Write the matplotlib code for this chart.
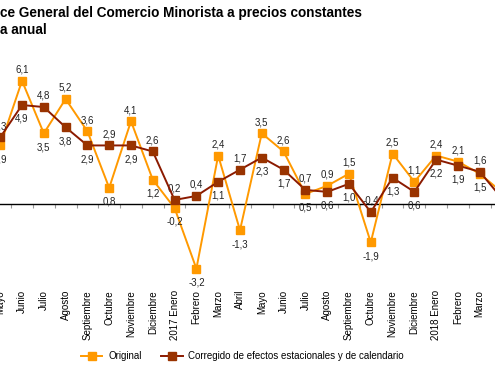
import matplotlib
matplotlib.use('Agg')
import matplotlib.pyplot as plt

plt.rcParams['font.family'] = ['Liberation Sans', 'DejaVu Sans']

months = ["Mayo", "Junio", "Julio", "Agosto", "Septiembre", "Octubre", "Noviembre", "Diciembre",
          "2017 Enero", "Febrero", "Marzo", "Abril", "Mayo", "Junio", "Julio", "Agosto",
          "Septiembre", "Octubre", "Noviembre", "Diciembre", "2018 Enero", "Febrero", "Marzo", "Abril"]
original = [2.9, 6.1, 3.5, 5.2, 3.6, 0.8, 4.1, 1.2, -0.2, -3.2, 2.4, -1.3, 3.5, 2.6, 0.5, 0.9,
            1.5, -1.9, 2.5, 1.1, 2.4, 2.1, 1.5, 0.6]
corregido = [3.3, 4.9, 4.8, 3.8, 2.9, 2.9, 2.9, 2.6, 0.2, 0.4, 1.1, 1.7, 2.3, 1.7, 0.7, 0.6,
             1.0, -0.4, 1.3, 0.6, 2.2, 1.9, 1.6, 0.3]
title_lines = ["ce General del Comercio Minorista a precios constantes", "a anual"]
legend_labels = ["Original", "Corregido de efectos estacionales y de calendario"]

c_orig = '#FF9900'
c_corr_line = '#8B1A00'
c_corr_mark = '#993300'

fig = plt.figure(figsize=(4.95, 3.85), dpi=100)
ax = fig.add_axes([0, 0, 1, 1])
ax.patch.set_alpha(0)

x = list(range(len(months)))
l1, = ax.plot(x, original, color=c_orig, lw=1.4, marker='s', ms=5.5,
              markerfacecolor=c_orig, markeredgecolor=c_orig, zorder=3)
l2, = ax.plot(x, corregido, color=c_corr_line, lw=1.4, marker='s', ms=5.5,
              markerfacecolor=c_corr_mark, markeredgecolor=c_corr_mark, zorder=4)

for s in ['left', 'right', 'top']:
    ax.spines[s].set_visible(False)
ax.spines['bottom'].set_position(('data', 0))
ax.spines['bottom'].set_color('black')
ax.spines['bottom'].set_linewidth(1.0)
ax.set_yticks([])
ax.set_xticks(x)
ax.set_xticklabels(months, rotation=90, fontsize=7, va='top', ha='center')
ax.set_xticks([i + 0.5 for i in x], minor=True)
ax.tick_params(axis='x', which='major', length=0, pad=62)
ax.tick_params(axis='x', which='minor', length=3, color='#999999', width=0.8)

ax.set_xlim(-0.01, 22.70)
ax.set_ylim(-8.96, 10.10)

def fmt(v):
    return f"{v:.1f}".replace('.', ',')

for i, (o, c) in enumerate(zip(original, corregido)):
    if o >= c:
        oo, co = 8, -10
    else:
        oo, co = -10, 8
    ax.annotate(fmt(o), (i, o), xytext=(0, oo), textcoords='offset points',
                ha='center', va='center', fontsize=7, color='#222222')
    ax.annotate(fmt(c), (i, c), xytext=(0, co), textcoords='offset points',
                ha='center', va='center', fontsize=7, color='#222222')

fig.text(0.0, 1 - 13 / 385, title_lines[0], fontsize=9.8, fontweight='bold', ha='left', va='center')
fig.text(0.0, 1 - 30 / 385, title_lines[1], fontsize=9.8, fontweight='bold', ha='left', va='center')

fig.legend([l1, l2], legend_labels, loc='center', bbox_to_anchor=(0.49, 1 - 356 / 385),
           ncol=2, frameon=False, fontsize=7, handlelength=2.2, columnspacing=2.0,
           handletextpad=0.6)

fig.savefig('out.png', dpi=100)
